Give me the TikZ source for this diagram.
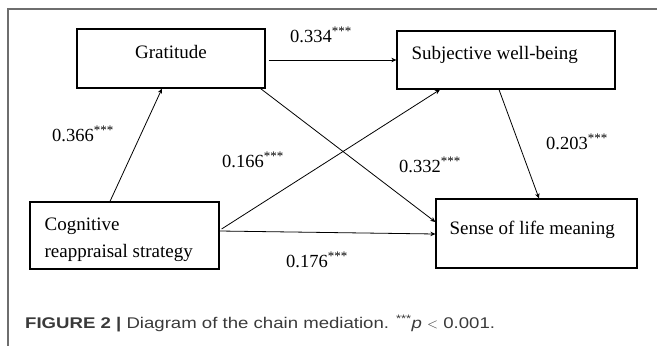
\documentclass[tikz,border=0pt]{standalone}
\usepackage{fontspec}
\setmainfont{Liberation Serif}
\newfontfamily\capfont[FakeStretch=1.2]{Liberation Sans}
\usetikzlibrary{arrows.meta}
\definecolor{capgray}{HTML}{3A3A3A}
\definecolor{framegray}{HTML}{6E6E6E}

\begin{document}
\begin{tikzpicture}[x=1pt, y=-1pt,
		box/.style={draw, line width=1.2pt, inner sep=0pt},
		txt/.style={font=\fontsize{19}{27}\selectfont, inner sep=0pt},
		coef/.style={font=\fontsize{18.5}{20}\selectfont, inner sep=0pt, anchor=base west},
		arr/.style={line width=0.8pt, -{Stealth[length=5pt, width=4.5pt, inset=1.5pt]}}]
		%%%%% START %%%%%
		
		\useasboundingbox (0, 0) rectangle (659, 346);
		\draw[line width=1.3pt, color=framegray] (657, 9) -- (8, 9) -- (8, 346);
		
		\node[box, minimum width=188pt, minimum height=59pt] (grat) at (171, 58.5) {};
		\node[box, minimum width=218pt, minimum height=58pt] (swb) at (506, 60) {};
		\node[box, minimum width=189pt, minimum height=67pt] (cog) at (124.5, 235.5) {};
		\node[box, minimum width=201pt, minimum height=69pt] (slm) at (536.5, 233.5) {};
		
		\node[txt, anchor=base] (gratT) at ([yshift=-30pt]grat.north) {Gratitude};
		\node[txt, anchor=base west] (swbT) at ([xshift=15pt, yshift=-29pt]swb.north west) {Subjective well-being};
		\node[txt, anchor=base west] (cogT) at ([xshift=15pt, yshift=-29pt]cog.north west) {Cognitive};
		\node[txt, anchor=base west] (cogU) at ([yshift=-27pt]cogT.base west) {reappraisal strategy};
		\node[txt, anchor=base west] (slmT) at ([xshift=14pt, yshift=-36pt]slm.north west) {Sense of life meaning};
		
		\draw[arr] ([xshift=3pt]grat.east |- swb.west) -- (swb.west);
		\draw[arr] ([xshift=-14.5pt]cog.north) -- ([xshift=-9pt]grat.south);
		\draw[arr] ([xshift=2pt, yshift=6.5pt]cog.east) -- ([xshift=-66pt]swb.south);
		\draw[arr] ([yshift=4.5pt]cog.east) -- ([yshift=-0.5pt]slm.west);
		\draw[arr] ([xshift=-5pt]grat.south east) -- ([yshift=11.5pt]slm.west);
		\draw[arr] ([xshift=-7pt]swb.south) -- ([xshift=2.5pt]slm.north);
		
		\node[coef] (b334) at (290, 42) {0.334\textsuperscript{***}};
		\node[coef] (b366) at (52, 141) {0.366\textsuperscript{***}};
		\node[coef] (b166) at (222, 167) {0.166\textsuperscript{***}};
		\node[coef] (b332) at (399, 172) {0.332\textsuperscript{***}};
		\node[coef] (b203) at (546, 149) {0.203\textsuperscript{***}};
		\node[coef] (b176) at (286, 267) {0.176\textsuperscript{***}};
		
		\node[anchor=base west, inner sep=0pt, text=capgray, font=\capfont\fontsize{15.5}{17}\selectfont] (cap) at (25, 328) {\textbf{FIGURE 2 |} Diagram of the chain mediation. \textsuperscript{***}\textit{p} $<$ 0.001.};
		
		%%%%% END %%%%%
	\end{tikzpicture}
\end{document}
